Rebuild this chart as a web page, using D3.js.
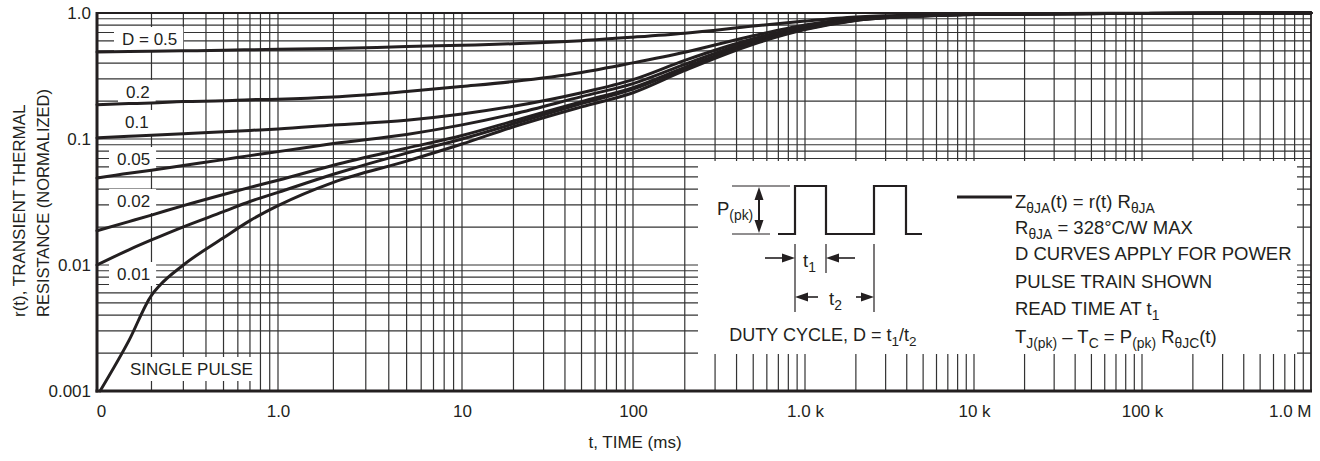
<!DOCTYPE html>
<html>
<head>
<meta charset="utf-8">
<script src="https://cdn.jsdelivr.net/npm/d3@7"></script>
<style>
  body { margin: 0; background: #fff; }
  text { font-family: "Liberation Sans", Arial, sans-serif; fill: #231f20; }
</style>
</head>
<body>
<svg id="chart"></svg>
<script>
const width = 1320
const height = 461

// time axis (ms) used by the D curves
const timeMs = [0.1, 0.15, 0.2, 0.3, 0.5, 0.7, 1, 2, 5, 10, 20, 50, 100, 200, 500, 1000, 2000, 5000, 1e4, 1e5, 1e6]
const d05  = [0.490, 0.494, 0.497, 0.501, 0.506, 0.511, 0.515, 0.522, 0.542, 0.555, 0.570, 0.603, 0.643, 0.692, 0.787, 0.863, 0.929, 0.964, 0.982, 0.995, 1.0]
const d02  = [0.187, 0.191, 0.193, 0.198, 0.201, 0.205, 0.207, 0.215, 0.238, 0.261, 0.286, 0.337, 0.402, 0.488, 0.660, 0.805, 0.905, 0.955, 0.978, 0.993, 1.0]
const d01  = [0.102, 0.105, 0.107, 0.110, 0.114, 0.117, 0.120, 0.129, 0.141, 0.158, 0.182, 0.233, 0.296, 0.421, 0.625, 0.778, 0.897, 0.955, 0.978, 0.993, 1.0]
const d005 = [0.049, 0.0535, 0.0565, 0.0616, 0.0686, 0.0738, 0.0794, 0.0920, 0.1086, 0.1294, 0.158, 0.217, 0.275, 0.391, 0.605, 0.765, 0.889, 0.951, 0.976, 0.993, 1.0]
const d002 = [0.0187, 0.0221, 0.0249, 0.0296, 0.0363, 0.0413, 0.0470, 0.0619, 0.0847, 0.1067, 0.139, 0.198, 0.256, 0.370, 0.585, 0.752, 0.881, 0.950, 0.976, 0.993, 1.0]
const d001 = [0.0100, 0.0132, 0.0158, 0.0201, 0.0265, 0.0319, 0.0377, 0.0525, 0.0773, 0.100, 0.132, 0.191, 0.249, 0.363, 0.575, 0.745, 0.876, 0.948, 0.975, 0.993, 1.0]

// single pulse has its own time points (knee near 0.2 ms)
const singleTime  = [0.104, 0.15, 0.2, 0.22, 0.3, 0.5, 0.7, 1, 2, 5, 10, 20, 50, 100, 200, 500, 1000, 2000, 5000, 1e4, 1e5, 1e6]
const singlePulse = [0.001, 0.00251, 0.00575, 0.00679, 0.0100, 0.01644, 0.0225, 0.0296, 0.0453, 0.0667, 0.0912, 0.125, 0.180, 0.233, 0.350, 0.565, 0.738, 0.873, 0.946, 0.975, 0.993, 1.0]

const xTickValues = [0.1, 1, 10, 100, 1000, 1e4, 1e5, 1e6]
const xTickLabels = ["0", "1.0", "10", "100", "1.0 k", "10 k", "100 k", "1.0 M"]
const yTickValues = [0.001, 0.01, 0.1, 1]
const yTickLabels = ["0.001", "0.01", "0.1", "1.0"]
const curveLabels = ["D = 0.5", "0.2", "0.1", "0.05", "0.02", "0.01", "SINGLE PULSE"]

const pL = 97, pR = 1311, pT = 13, pB = 391

const svg = d3.select("#chart")
    .attr("width", width)
    .attr("height", height)

// the scanned sheet has slightly uneven decades, so the log scale is piecewise
const x = d3.scaleLog()
    .domain(xTickValues)
    .range([pL, 278, 462, 633, 805, 974, 1142, pR])

const y = d3.scaleLog()
    .domain([0.001, 1])
    .range([pB, pT])

// grid
const grid = svg.append("g").attr("stroke", "#333").attr("stroke-width", 1.2)
grid.selectAll("line.v")
    .data(x.ticks().filter(d => d > 0.1))
    .enter().append("line")
    .attr("class", "v")
    .attr("x1", d => x(d)).attr("x2", d => x(d))
    .attr("y1", pT).attr("y2", pB)
grid.selectAll("line.h")
    .data(y.ticks().filter(d => d > 0.001))
    .enter().append("line")
    .attr("class", "h")
    .attr("x1", pL).attr("x2", pR)
    .attr("y1", d => y(d)).attr("y2", d => y(d))

// curve labels with white background
const labelPos = [[122, 45], [126, 98], [125, 128], [117, 165], [117, 207], [117, 280], [130, 375]]
const labels = svg.append("g")
curveLabels.forEach((txt, i) => {
    const g = labels.append("g")
    const t = g.append("text")
        .attr("x", labelPos[i][0]).attr("y", labelPos[i][1])
        .attr("font-size", 17)
        .text(txt)
    const b = t.node().getBBox()
    g.insert("rect", "text")
        .attr("x", b.x - 8).attr("y", b.y - 3)
        .attr("width", b.width + 14).attr("height", b.height + 5)
        .attr("fill", "#fff")
})

// inset box
const inset = svg.append("g")
inset.append("rect")
    .attr("x", 698).attr("y", 161)
    .attr("width", 599).attr("height", 193)
    .attr("fill", "#fff")

// curves
const line = d3.line()
    .x(d => x(d[0]))
    .y(d => y(d[1]))
    .curve(d3.curveMonotoneX)

const series = [d05, d02, d01, d005, d002, d001].map(vals => timeMs.map((t, i) => [t, vals[i]]))
series.push(singleTime.map((t, i) => [t, singlePulse[i]]))

svg.append("g").selectAll("path")
    .data(series)
    .enter().append("path")
    .attr("d", line)
    .attr("fill", "none")
    .attr("stroke", "#231f20")
    .attr("stroke-width", 3)
    .attr("stroke-linecap", "round")

// frame
const frame = svg.append("g").attr("stroke", "#231f20")
frame.append("line").attr("x1", pL).attr("x2", pR).attr("y1", pT).attr("y2", pT).attr("stroke-width", 2)
frame.append("line").attr("x1", pR).attr("x2", pR).attr("y1", pT).attr("y2", pB).attr("stroke-width", 1.5)
frame.append("line").attr("x1", pL).attr("x2", pL).attr("y1", pT - 1).attr("y2", pB + 1.5).attr("stroke-width", 3)
frame.append("line").attr("x1", pL - 1.5).attr("x2", pR + 1).attr("y1", pB).attr("y2", pB).attr("stroke-width", 3)

// axes
const xAxis = svg.append("g")
    .attr("transform", `translate(0,${pB})`)
    .call(d3.axisBottom(x).tickValues(xTickValues).tickSize(0).tickPadding(14)
        .tickFormat((d, i) => xTickLabels[i]))
xAxis.select(".domain").remove()
xAxis.selectAll("text").attr("font-size", 17).attr("fill", "#231f20")
xAxis.selectAll(".tick").filter(d => d === 1e6).select("text").attr("text-anchor", "end").attr("x", 0)
xAxis.selectAll(".tick").filter(d => d === 0.1).select("text").attr("x", 4)
xAxis.attr("font-family", null)

const yAxis = svg.append("g")
    .attr("transform", `translate(${pL},0)`)
    .call(d3.axisLeft(y).tickValues(yTickValues).tickSize(0).tickPadding(6)
        .tickFormat((d, i) => yTickLabels[i]))
yAxis.select(".domain").remove()
yAxis.selectAll("text").attr("font-size", 17).attr("fill", "#231f20")
yAxis.attr("font-family", null)

svg.append("text")
    .attr("x", 635).attr("y", 448)
    .attr("text-anchor", "middle")
    .attr("font-size", 17)
    .text("t, TIME (ms)")

svg.append("text")
    .attr("transform", "translate(25,317) rotate(-90)")
    .attr("font-size", 17)
    .text("r(t), TRANSIENT THERMAL")
svg.append("text")
    .attr("transform", "translate(49,317) rotate(-90)")
    .attr("font-size", 16.5)
    .text("RESISTANCE (NORMALIZED)")

// inset drawing: pulse train and dimension arrows
const ink = "#231f20"
function arrowHead(xTip, yTip, dir) {
    const L = 13, W = 4.5
    let pts
    if (dir === "r") pts = [[xTip, yTip], [xTip - L, yTip - W], [xTip - L, yTip + W]]
    if (dir === "l") pts = [[xTip, yTip], [xTip + L, yTip - W], [xTip + L, yTip + W]]
    if (dir === "u") pts = [[xTip, yTip], [xTip - W, yTip + L], [xTip + W, yTip + L]]
    if (dir === "d") pts = [[xTip, yTip], [xTip - W, yTip - L], [xTip + W, yTip - L]]
    inset.append("path").attr("d", "M" + pts.join("L") + "Z").attr("fill", ink)
}
function seg(x1, y1, x2, y2, w) {
    inset.append("line").attr("x1", x1).attr("y1", y1).attr("x2", x2).attr("y2", y2)
        .attr("stroke", ink).attr("stroke-width", w)
}

inset.append("path")
    .attr("d", "M778,234H795V186H826V234H874V186H906V234H922")
    .attr("fill", "none").attr("stroke", ink).attr("stroke-width", 2.2)

seg(732, 186, 790, 186, 1)
seg(732, 234, 770, 234, 1)
seg(759, 192, 759, 228, 2)
arrowHead(759, 187, "u")
arrowHead(759, 233, "d")

seg(795, 244, 795, 312, 1.2)
seg(826, 244, 826, 273, 1.2)
seg(874, 244, 874, 312, 1.2)
seg(765, 258, 786, 258, 1.6)
arrowHead(795, 258, "r")
seg(835, 258, 855, 258, 1.6)
arrowHead(826, 258, "l")
seg(804, 297, 818, 297, 1.6)
arrowHead(795, 297, "l")
seg(856, 297, 865, 297, 1.6)
arrowHead(874, 297, "r")

// text with subscripts: parts are [string, isSub]
function richText(xp, yp, size, parts, anchor) {
    const t = inset.append("text").attr("x", xp).attr("y", yp).attr("font-size", size)
    if (anchor) t.attr("text-anchor", anchor)
    let low = false
    parts.forEach(p => {
        const s = t.append("tspan").text(p[0])
        if (p[1]) {
            s.attr("font-size", size * 0.75).attr("dy", low ? 0 : 5)
            low = true
        } else {
            s.attr("dy", low ? -5 : 0)
            low = false
        }
    })
    return t
}

richText(717, 215, 18.5, [["P"], ["(pk)", true]])
richText(803, 267, 18.5, [["t"], ["1", true]])
richText(829, 305, 18.5, [["t"], ["2", true]])
richText(823, 341, 18, [["DUTY CYCLE, D = t"], ["1", true], ["/t"], ["2", true]], "middle")

seg(957, 197, 1012, 197, 3)
const lx = 1015
richText(lx, 208, 18.5, [["Z"], ["\u03b8JA", true], ["(t) = r(t) R"], ["\u03b8JA", true]])
richText(lx, 234, 18.5, [["R"], ["\u03b8JA", true], [" = 328\u00b0C/W MAX"]])
richText(lx, 260, 18.5, [["D CURVES APPLY FOR POWER"]])
richText(lx, 288, 18.5, [["PULSE TRAIN SHOWN"]])
richText(lx, 315, 18.5, [["READ TIME AT t"], ["1", true]])
richText(lx, 343, 18.5, [["T"], ["J(pk)", true], [" \u2013 T"], ["C", true], [" = P"], ["(pk)", true], [" R"], ["\u03b8JC", true], ["(t)"]])
</script>
</body>
</html>
